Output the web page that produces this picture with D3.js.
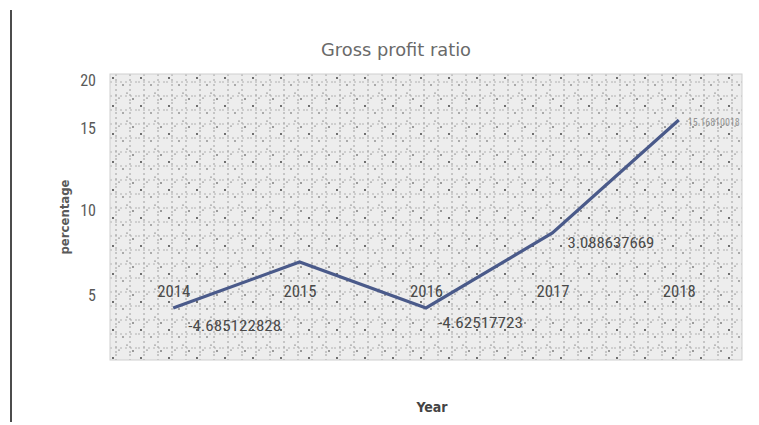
<!DOCTYPE html>
<html>
<head>
<meta charset="utf-8">
<script src="https://cdn.jsdelivr.net/npm/d3@7"></script>
<style>
  html, body { margin: 0; padding: 0; background: #fff; }
  svg { display: block; }
</style>
</head>
<body>
<svg id="chart" width="759" height="425"></svg>
<script>
// ---- data ----
const years = ["2014", "2015", "2016", "2017", "2018"];
const ratios = [4.24, 6.94, 4.24, 8.65, 15.83];
const dataLabels = ["-4.685122828", null, "-4.62517723", "3.088637669", "15.16810018"];
const yTicks = [5, 10, 15, 20];
const yTickPositions = [295, 210, 128, 80]; // distorted axis as in the reference
const title = "Gross profit ratio";
const yTitle = "percentage";
const xTitle = "Year";

const svg = d3.select("#chart");
const plot = { left: 110, right: 742, top: 74, bottom: 360 };
const narrow = "'Roboto Condensed','DejaVu Sans Condensed','Liberation Sans Narrow',sans-serif";

// left black rule
svg.append("line").attr("x1", 11).attr("x2", 11).attr("y1", 10).attr("y2", 422)
  .attr("stroke", "#111").attr("stroke-width", 1.5);

// texture pattern for the plot background
const defs = svg.append("defs");
const pat = defs.append("pattern").attr("id", "tex").attr("patternUnits", "userSpaceOnUse")
  .attr("x", plot.left).attr("y", plot.top)
  .attr("width", 28).attr("height", 28);
pat.append("rect").attr("width", 28).attr("height", 28).attr("fill", "#ededed");
[6, 20].forEach(v => {
  pat.append("line").attr("x1", v).attr("x2", v).attr("y1", 0).attr("y2", 28)
    .attr("stroke", "#8a8a8a").attr("stroke-width", 0.8).attr("stroke-dasharray", "2,3");
  pat.append("line").attr("x1", 0).attr("x2", 28).attr("y1", v + 2).attr("y2", v + 2)
    .attr("stroke", "#a0a0a0").attr("stroke-width", 0.8).attr("stroke-dasharray", "2,3");
});
[[3, 4, 0.9], [13, 11, 0.7], [23, 25, 0.8], [17, 19, 0.6], [9, 24, 0.6]].forEach(([cx, cy, r]) =>
  pat.append("circle").attr("cx", cx).attr("cy", cy).attr("r", r).attr("fill", "#333"));

svg.append("rect")
  .attr("x", plot.left).attr("y", plot.top)
  .attr("width", plot.right - plot.left).attr("height", plot.bottom - plot.top)
  .attr("fill", "url(#tex)").attr("stroke", "#cfcfcf");

// scales
const x = d3.scalePoint().domain(years).range([plot.left, plot.right]).padding(0.5);
const y = d3.scaleLinear().domain(yTicks).range(yTickPositions);

// y axis (labels only)
const yAxis = svg.append("g").attr("transform", `translate(${plot.left - 14},0)`)
  .call(d3.axisLeft(y).tickValues(yTicks).tickSize(0).tickPadding(0));
yAxis.select(".domain").remove();
yAxis.selectAll("text").attr("font-family", narrow)
  .attr("font-size", 16).attr("fill", "#595959");

// x axis labels drawn inside the plot at the level of value 5
const xAxis = svg.append("g").attr("transform", `translate(0,${y(5) - 9})`)
  .call(d3.axisBottom(x).tickSize(0).tickPadding(0));
xAxis.select(".domain").remove();
xAxis.selectAll("text").attr("font-family", narrow)
  .attr("font-size", 16).attr("fill", "#4a4a4a")
  .attr("textLength", 33).attr("lengthAdjust", "spacingAndGlyphs");

// line
const line = d3.line().x((d, i) => x(years[i])).y(d => y(d));
svg.append("path").datum(ratios)
  .attr("d", line).attr("fill", "none")
  .attr("stroke", "#4a5a8a").attr("stroke-width", 3.2).attr("stroke-linejoin", "miter");

// data labels
const labelOffsets = [[15, 17], [0, 0], [12, 14], [15, 9], [9, 0]];
const labelWidths = [93, 0, 85, 87, 52];
const labelSizes = [15, 0, 15, 15, 11];
svg.append("g").selectAll("text").data(years)
  .join("text")
  .filter((d, i) => dataLabels[i] !== null)
  .attr("x", d => x(d) + labelOffsets[years.indexOf(d)][0])
  .attr("y", d => y(ratios[years.indexOf(d)]) + labelOffsets[years.indexOf(d)][1] + 6)
  .attr("font-family", narrow)
  .attr("font-size", d => labelSizes[years.indexOf(d)]).attr("fill", "#4a4a4a")
  .attr("textLength", d => labelWidths[years.indexOf(d)]).attr("lengthAdjust", "spacingAndGlyphs")
  .attr("opacity", d => d === "2018" ? 0.55 : 1)
  .text(d => dataLabels[years.indexOf(d)]);

// title
svg.append("text").attr("x", 396).attr("y", 56).attr("text-anchor", "middle")
  .attr("font-family", "'DejaVu Sans', sans-serif").attr("font-size", 17)
  .attr("fill", "#6a6a6a").attr("textLength", 150).attr("lengthAdjust", "spacingAndGlyphs").text(title);

// axis titles
svg.append("text").attr("transform", "translate(69,217) rotate(-90)")
  .attr("text-anchor", "middle").attr("font-family", "'DejaVu Sans Condensed','DejaVu Sans',sans-serif")
  .attr("font-weight", "bold").attr("font-size", 13).attr("fill", "#595959").text(yTitle);
svg.append("text").attr("x", 432).attr("y", 412).attr("text-anchor", "middle")
  .attr("font-family", "'DejaVu Sans Condensed','DejaVu Sans',sans-serif")
  .attr("font-weight", "bold").attr("font-size", 14).attr("fill", "#444").text(xTitle);
</script>
</body>
</html>
